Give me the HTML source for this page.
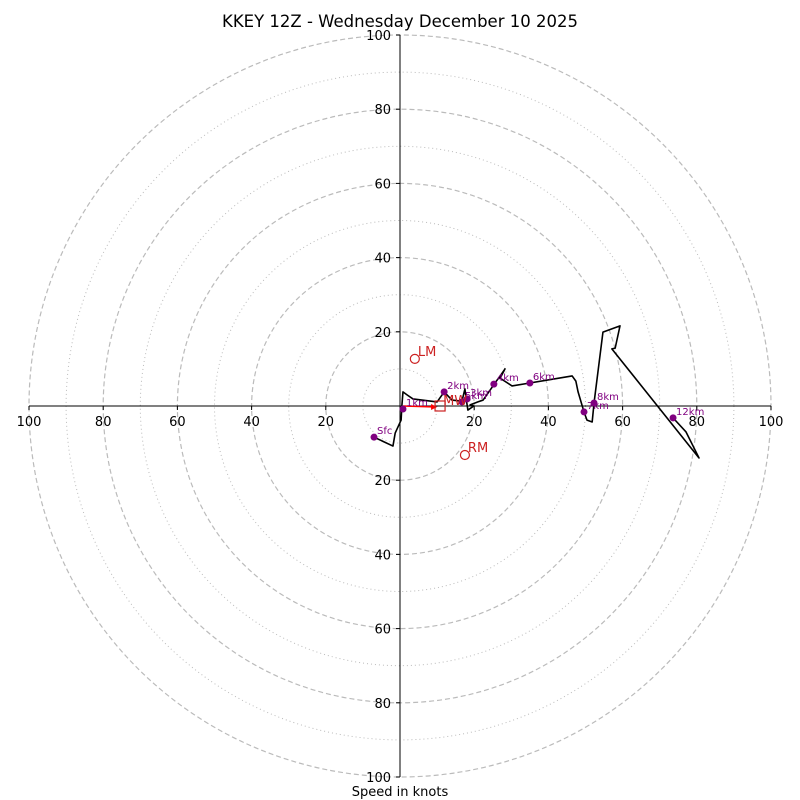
<!DOCTYPE html>
<html><head><meta charset="utf-8"><style>
body{margin:0;background:#fff}
svg{display:block;font-family:"DejaVu Sans","Liberation Sans",sans-serif}
</style></head><body>
<svg id="chart" width="800" height="800" viewBox="0 0 800 800" xmlns="http://www.w3.org/2000/svg">
<rect width="800" height="800" fill="#fff"/>
<text x="400" y="27" font-size="16.5" text-anchor="middle">KKEY 12Z - Wednesday December 10 2025</text>
<text x="400" y="796" font-size="13" text-anchor="middle">Speed in knots</text>
<g id="rings"></g><g id="axes"></g><g id="trace"></g><g id="marks"></g>
</svg>
<script>
const ringValues=[10,20,30,40,50,60,70,80,90,100];
const tickValues=[20,40,60,80,100];
const hodoU=[-7.0,-1.9,-1.3,0.3,0.5,0.8,1.9,3.5,10.0,11.9,14.0,16.7,17.5,17.8,18.3,19.9,18.9,21.0,22.4,24.3,25.6,27.0,28.3,27.0,30.2,35.0,46.4,47.4,48.0,49.6,50.4,51.8,52.3,54.7,59.3,58.0,57.1,80.6,77.1,73.6];
const hodoV=[-8.4,-10.8,-7.3,-3.8,0,3.8,3.0,1.9,1.1,3.8,1.6,1.3,4.6,2.2,-1.1,0,0.3,1.1,1.6,4.3,6.2,8.1,10.0,7.5,5.4,6.2,8.1,6.7,3.8,-1.6,-3.8,-4.3,0.8,19.9,21.6,15.6,15.4,-14.0,-7.0,-3.2];
const markerLabels=["Sfc","1km","2km","3km","5km","4km","6km","7km","8km","12km"];
const markerU=[-7.0,0.8,11.9,18.1,16.7,25.3,35.0,49.6,52.3,73.6];
const markerV=[-8.4,-0.8,3.8,1.9,1.1,5.9,6.2,-1.6,0.8,-3.2];
const motionLabels=["LM","RM"];
const motionU=[4.0,17.5];
const motionV=[12.7,-13.2];
const meanWindU=[10.8], meanWindV=[0];

const CX=400,CY=406,S=3.71;
const sx=u=>CX+u*S, sy=v=>CY-v*S;
const NS="http://www.w3.org/2000/svg";
function mk(tag,parent,attrs){const e=document.createElementNS(NS,tag);for(const k in attrs)e.setAttribute(k,attrs[k]);parent.appendChild(e);return e;}
const rings=document.getElementById('rings'),axes=document.getElementById('axes'),trace=document.getElementById('trace'),marks=document.getElementById('marks');
ringValues.forEach(r=>{const c=mk('circle',rings,{cx:CX,cy:CY,r:r*S,fill:'none',stroke:'#bbb','stroke-width':r%20===0?1.2:1,'stroke-dasharray':r%20===0?'5,3':'1,3'});

});
const hx=mk('line',axes,{x1:sx(-100),x2:sx(100),y1:CY,y2:CY,stroke:'#000','stroke-width':1});


const vy=mk('line',axes,{x1:CX,x2:CX,y1:sy(100),y2:sy(-100),stroke:'#000','stroke-width':1});


tickValues.forEach(t=>{
 [-t,t].forEach(u=>{mk('line',axes,{x1:sx(u),x2:sx(u),y1:CY,y2:CY+4,stroke:'#000'});
  const tx=mk('text',axes,{x:sx(u),y:CY+20,'font-size':13,'text-anchor':'middle'});tx.textContent=t;
  
  });
 [-t,t].forEach(v=>{mk('line',axes,{x1:CX-4,x2:CX,y1:sy(v),y2:sy(v),stroke:'#000'});
  const ty=mk('text',axes,{x:CX-9,y:sy(v)+5,'font-size':13,'text-anchor':'end'});ty.textContent=t;
  
  });
});
const pts=hodoU.map((u,i)=>sx(u)+','+sy(hodoV[i])).join(' ');
const pl=mk('polyline',trace,{points:pts,fill:'none',stroke:'#000','stroke-width':1.6,'stroke-linejoin':'round'});


const ar=mk('line',trace,{x1:sx(0.8),y1:CY,x2:sx(meanWindU[0])-4,y2:sy(meanWindV[0])+1,stroke:'red','stroke-width':1.6});


mk('polygon',trace,{points:`${sx(meanWindU[0])-3},${CY+1} ${sx(meanWindU[0])-9},${CY-2} ${sx(meanWindU[0])-9},${CY+4}`,fill:'red'});
markerLabels.forEach((l,i)=>{
 const c=mk('circle',marks,{cx:sx(markerU[i]),cy:sy(markerV[i]),r:3.5,fill:'purple'});
 
 
 const t=mk('text',marks,{x:sx(markerU[i])+3,y:sy(markerV[i])-3,'font-size':10,fill:'purple'});t.textContent=l;
 
 
});
motionLabels.forEach((l,i)=>{
 const c=mk('circle',marks,{cx:sx(motionU[i]),cy:sy(motionV[i]),r:4.5,fill:'none',stroke:'#c22','stroke-width':1.2});
 
 
 const t=mk('text',marks,{x:sx(motionU[i])+3,y:sy(motionV[i])-3,'font-size':13,fill:'#c22'});t.textContent=l;
 
 
});
const sq=mk('rect',marks,{x:sx(meanWindU[0])-5,y:sy(meanWindV[0])-5,width:10,height:10,fill:'none',stroke:'#c22','stroke-width':1.2});


const mw=mk('text',marks,{x:sx(meanWindU[0])+3,y:sy(meanWindV[0])-1,'font-size':13,fill:'#c22'});mw.textContent='MW';


</script>
</body></html>
